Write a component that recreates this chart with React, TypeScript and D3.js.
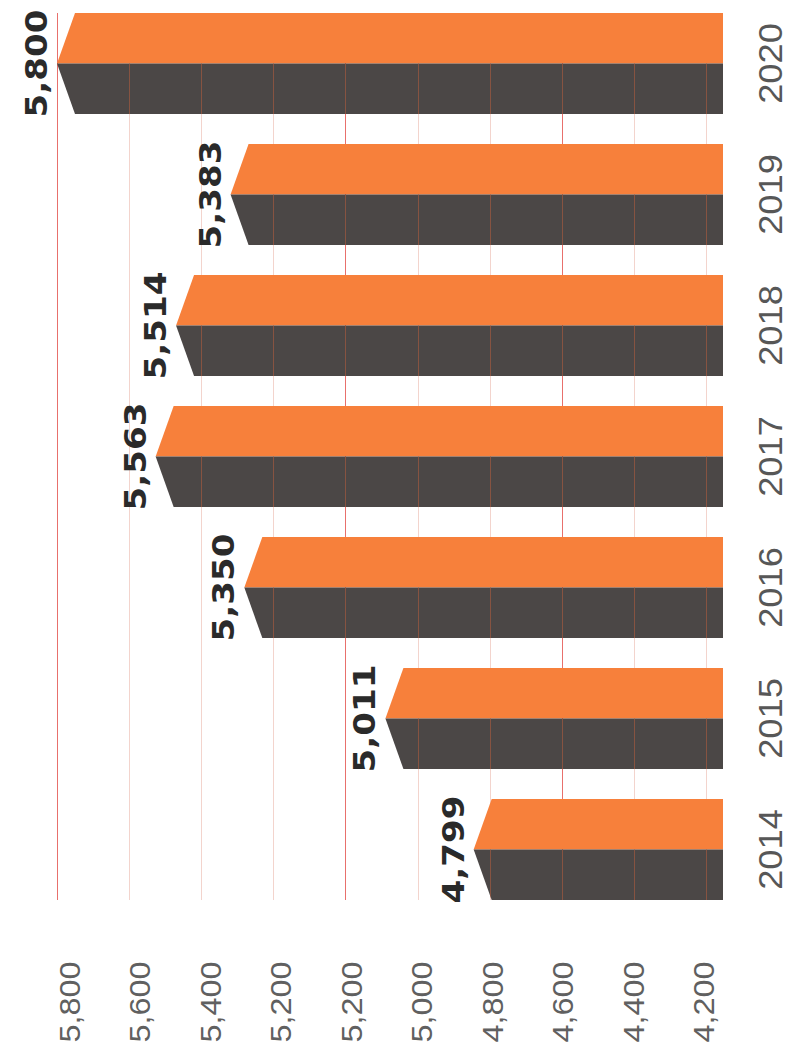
import React from 'react';
import * as d3 from 'd3';

const years = ['2014', '2015', '2016', '2017', '2018', '2019', '2020'];
const values = [4799, 5011, 5350, 5563, 5514, 5383, 5800];
const tickLabels = ['5,800', '5,600', '5,400', '5,200', '5,200', '5,000', '4,800', '4,600', '4,400', '4,200'];
const valueDomain = [4200, 5800];

export default function App() {
  const W = 793;
  const H = 1057;
  const x = d3.scaleLinear().domain(valueDomain).range([723, 57]);
  const y = d3
    .scaleBand()
    .domain([...years].reverse())
    .range([13, 900])
    .paddingInner(0.229)
    .paddingOuter(0);
  const tickDomain = tickLabels.map((_, i) => String(i));
  const g = d3.scalePoint().domain(tickDomain).range([57, 706]);
  const gl = d3.scalePoint().domain(tickDomain).range([80, 714]);
  const fmt = d3.format(',');
  const bevel = 18;
  const strong = new Set([0, 4, 7]);
  const base = x(valueDomain[0]);
  const bw = y.bandwidth();
  const snap = (v: number) => Math.round(v) + 0.5;

  return (
    <svg
      width={W}
      height={H}
      viewBox={`0 0 ${W} ${H}`}
      style={{ position: 'absolute', left: 0, top: 0, background: '#fff' }}
    >
      <defs>
        {years.map((yr, i) => {
          const y0 = y(yr) as number;
          const mid = y0 + bw / 2;
          const tip = x(values[i]);
          return (
            <clipPath id={`dark-${yr}`} key={yr}>
              <path d={`M${tip},${mid} L${base},${mid} L${base},${y0 + bw} L${tip + bevel},${y0 + bw} Z`} />
            </clipPath>
          );
        })}
      </defs>
      {/* gridlines */}
      {tickLabels.map((t, i) => {
        const gx = snap(g(String(i)) as number);
        return (
          <line
            key={`grid-${i}`}
            x1={gx}
            x2={gx}
            y1={13}
            y2={900}
            stroke={strong.has(i) ? '#e8706c' : '#f3d4cd'}
            strokeWidth={1}
          />
        );
      })}
      {/* bars */}
      {years.map((yr, i) => {
        const y0 = y(yr) as number;
        const mid = y0 + bw / 2;
        const tip = x(values[i]);
        return (
          <g key={`bar-${yr}`}>
            <path
              d={`M${tip + bevel},${y0} L${base},${y0} L${base},${mid} L${tip},${mid} Z`}
              fill="#f7803b"
            />
            <path
              d={`M${tip},${mid} L${base},${mid} L${base},${y0 + bw} L${tip + bevel},${y0 + bw} Z`}
              fill="#4b4746"
            />
            <g clipPath={`url(#dark-${yr})`}>
              {tickLabels.map((t, j) => {
                const gx = snap(g(String(j)) as number);
                return (
                  <line
                    key={`dg-${j}`}
                    x1={gx}
                    x2={gx}
                    y1={mid}
                    y2={y0 + bw}
                    stroke="#a0593f"
                    strokeOpacity={0.7}
                    strokeWidth={1}
                  />
                );
              })}
            </g>
            <text
              transform={`translate(${tip - 10},${mid}) rotate(-90) scale(1.1,1)`}
              textAnchor="middle"
              fontFamily="'DejaVu Sans', Verdana, sans-serif"
              fontWeight="bold"
              fontSize={31}
              fill="#2a2a2a"
            >
              {fmt(values[i])}
            </text>
            <text
              transform={`translate(782,${mid}) rotate(-90) scale(1.1,1)`}
              textAnchor="middle"
              fontFamily="'Liberation Sans', Arial, sans-serif"
              fontSize={33}
              fill="#575757"
            >
              {yr}
            </text>
          </g>
        );
      })}
      {/* axis labels */}
      {tickLabels.map((t, i) => {
        const lx = gl(String(i)) as number;
        return (
          <text
            key={`tick-${i}`}
            transform={`translate(${lx},1002) rotate(-90) scale(1.08,1)`}
            textAnchor="middle"
            fontFamily="'Liberation Sans', Arial, sans-serif"
            fontSize={30}
            fill="#606060"
          >
            {t}
          </text>
        );
      })}
    </svg>
  );
}
